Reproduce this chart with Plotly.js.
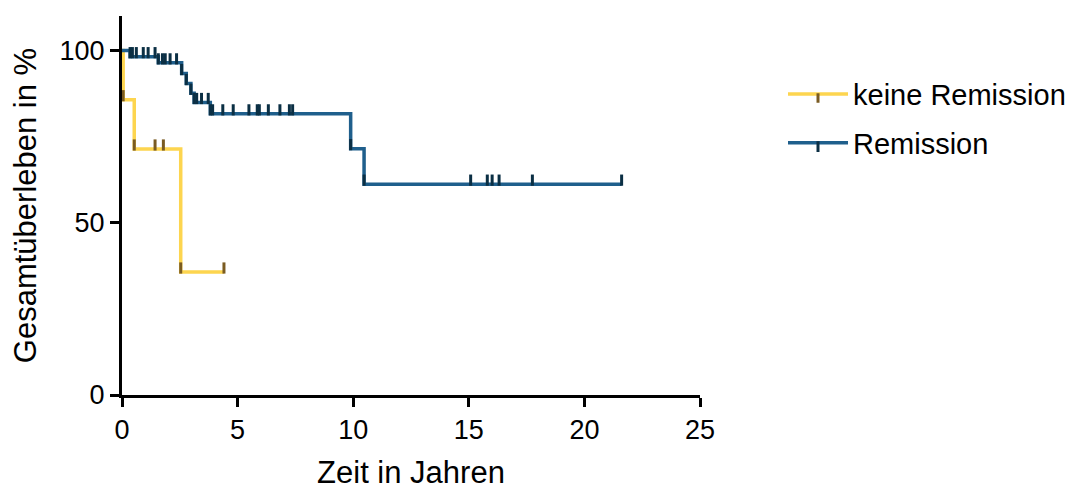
<!DOCTYPE html>
<html>
<head>
<meta charset="utf-8">
<script src="https://cdn.plot.ly/plotly-3.0.1.min.js"></script>
<style>
  html, body { margin: 0; padding: 0; background: #ffffff; }
  #chart { width: 1086px; height: 490px; }
</style>
</head>
<body>
<div id="chart"></div>
<script>
// Kaplan-Meier: Gesamtüberleben nach Remissionsstatus (Zeit in Jahren, Überleben in %)

// keine Remission
const noRemEventTimes = [0.05, 0.53, 2.54];
const noRemEventSurv  = [85.7, 71.4, 35.7];
const noRemCensorTimes = [1.43, 1.79, 4.41];

// Remission
const remEventTimes = [0.35, 1.57, 2.58, 2.78, 2.98, 3.12, 3.82, 9.89, 10.47];
const remEventSurv  = [98.2, 96.4, 93.3, 90.4, 87.6, 84.9, 81.6, 71.5, 61.2];
const remCensorTimes = [0.45, 0.62, 0.92, 1.13, 1.43, 1.75, 1.87, 2.08, 2.36,
                        3.23, 3.44, 3.73,
                        3.92, 4.36, 4.81, 5.49, 5.85, 5.94, 6.33, 6.83, 7.24, 7.38,
                        15.08, 15.80, 16.01, 16.31, 17.75, 21.61];

const seriesNames = ['keine Remission', 'Remission'];
const lineColors = ['#FDD54F', '#1F5F8C'];
const tickColors = ['#7A5B22', '#0B2F44'];

// survival value of the step function at time t
function survAt(t, evT, evS) {
  let s = 100;
  for (let i = 0; i < evT.length; i++) if (evT[i] <= t) s = evS[i];
  return s;
}

// build the step curve: every event and every censored time becomes a point
function buildCurve(evT, evS, cenT) {
  const pts = [{x: 0, y: 100, size: 0}];
  evT.forEach((t, i) => pts.push({x: t, y: evS[i], size: 8}));
  cenT.forEach(t => pts.push({x: t, y: survAt(t, evT, evS), size: 8}));
  pts.sort((a, b) => a.x - b.x);
  return {
    x: pts.map(p => p.x),
    y: pts.map(p => p.y),
    size: pts.map(p => p.size)
  };
}

const curves = [
  buildCurve(noRemEventTimes, noRemEventSurv, noRemCensorTimes),
  buildCurve(remEventTimes, remEventSurv, remCensorTimes)
];

const traces = curves.map((c, i) => ({
  type: 'scatter',
  mode: 'lines+markers',
  name: seriesNames[i],
  legendgroup: 'g' + i,
  x: c.x,
  y: c.y,
  line: {shape: 'hv', color: lineColors[i], width: 3.5},
  marker: {
    symbol: 'line-ns',
    size: c.size,
    opacity: 1,
    angle: 180,
    standoff: 4,
    color: tickColors[i],
    line: {color: tickColors[i], width: 3}
  },
  hoverinfo: 'x+y'
}));

const font = 'Liberation Sans, Arial, Helvetica, sans-serif';

const layout = {
  width: 1086,
  height: 490,
  margin: {l: 122, r: 386, t: 16, b: 95, pad: 0},
  paper_bgcolor: '#ffffff',
  plot_bgcolor: '#ffffff',
  font: {family: font, color: '#000000', size: 27},
  showlegend: true,
  legend: {
    xref: 'container', yref: 'container',
    x: 0.721, y: 0.86, xanchor: 'left', yanchor: 'top',
    font: {family: font, size: 29, color: '#000000'},
    itemwidth: 60,
    tracegroupgap: 8,
    bgcolor: 'rgba(0,0,0,0)'
  },
  xaxis: {
    range: [0, 25],
    tickmode: 'array',
    tickvals: [0, 5, 10, 15, 20, 25],
    ticktext: ['0', '5', '10', '15', '20', '25'],
    showgrid: false, zeroline: false,
    showline: true, linecolor: '#000000', linewidth: 3,
    ticks: 'outside', ticklen: 9, tickwidth: 3, tickcolor: '#000000',
    tickfont: {family: font, size: 27},
    title: {text: 'Zeit in Jahren', font: {family: font, size: 31}, standoff: 22}
  },
  yaxis: {
    range: [0, 110],
    tickmode: 'array',
    tickvals: [0, 50, 100],
    ticktext: ['0', '50', '100'],
    showgrid: false, zeroline: false,
    showline: true, linecolor: '#000000', linewidth: 3,
    ticks: 'outside', ticklen: 9, tickwidth: 3, tickcolor: '#000000',
    tickfont: {family: font, size: 27},
    title: {text: 'Gesamtüberleben in %', font: {family: font, size: 31}, standoff: 14}
  }
};

Plotly.newPlot('chart', traces, layout, {displayModeBar: false, staticPlot: true});
</script>
</body>
</html>
